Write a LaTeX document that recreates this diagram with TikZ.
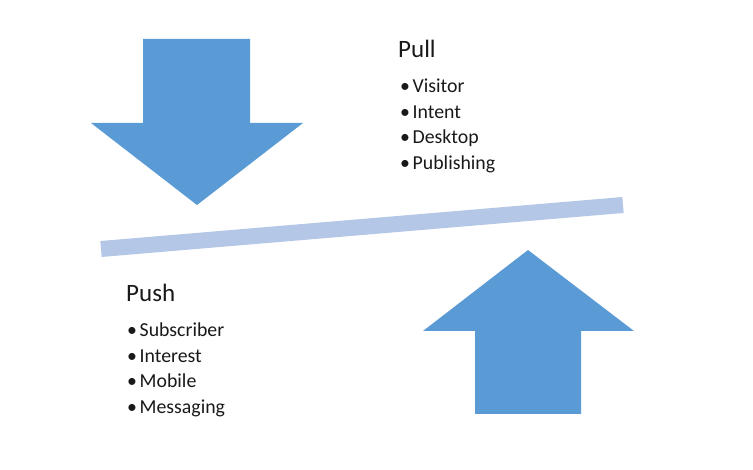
\documentclass[tikz,border=0pt]{standalone}
\usepackage{fontspec}
\setmainfont{Carlito}
\definecolor{arrowblue}{HTML}{5B9BD5}
\definecolor{barblue}{HTML}{B4C7E7}
\newcommand{\bulitem}[1]{\makebox[12.5pt][l]{•}#1}
\begin{document}
\begin{tikzpicture}[x=1pt,y=-1pt,
  titletext/.style={anchor=base west, inner sep=0pt, text=black!90, font=\fontsize{25}{29}\selectfont},
  itemtext/.style={anchor=base west, inner sep=0pt, text=black!90, font=\fontsize{19.8}{23}\selectfont},
  bigarrow/.style={fill=arrowblue},
  lever/.style={draw=barblue, line width=16pt}]
\useasboundingbox (0,0) rectangle (753,470);
% down arrow
\fill[bigarrow] (143,39) -- (250,39) -- (250,123) -- (303,123) -- (197,205) -- (91,123) -- (143,123) -- cycle;
% up arrow
\fill[bigarrow] (475,414) -- (581,414) -- (581,331) -- (634,331) -- (528,250) -- (423,331) -- (475,331) -- cycle;
% lever bar
\coordinate (barL) at (101,249);
\coordinate (barR) at (623,205);
\draw[lever] (barL) -- (barR);
% Pull
\node[titletext] (pull) at (398,58) {Pull};
\node[itemtext] (p1) at (400,93) {\bulitem{Visitor}};
\node[itemtext] (p2) at (400,118.4) {\bulitem{Intent}};
\node[itemtext] (p3) at (400,143.8) {\bulitem{Desktop}};
\node[itemtext] (p4) at (400,169.2) {\bulitem{Publishing}};
% Push
\node[titletext] (push) at (126,302) {Push};
\node[itemtext] (s1) at (127,337) {\bulitem{Subscriber}};
\node[itemtext] (s2) at (127,362.4) {\bulitem{Interest}};
\node[itemtext] (s3) at (127,387.8) {\bulitem{Mobile}};
\node[itemtext] (s4) at (127,413.2) {\bulitem{Messaging}};
\end{tikzpicture}
\end{document}
